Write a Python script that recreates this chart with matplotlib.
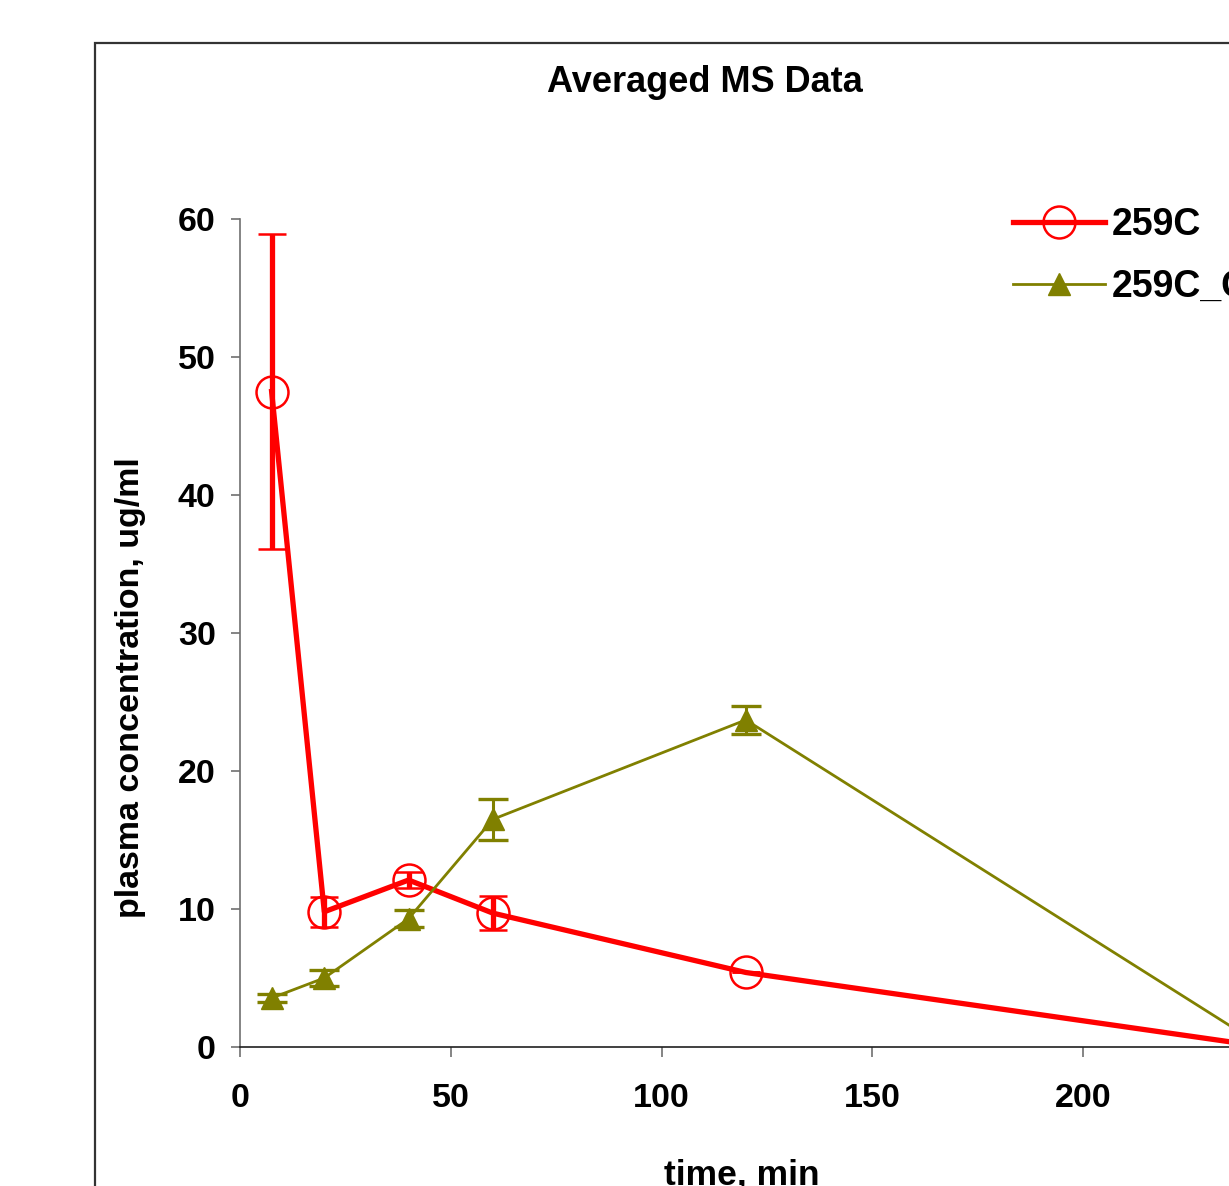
import matplotlib
matplotlib.use("Agg")
import matplotlib.pyplot as plt
from matplotlib.patches import Rectangle
from matplotlib.lines import Line2D

plt.rcParams['font.family'] = ['Liberation Sans', 'DejaVu Sans']
plt.rcParams['font.weight'] = 'bold'

time_min = [7.5, 20, 40, 60, 120, 240]
conc_259c = [47.5, 9.8, 12.1, 9.7, 5.4, 0.15]
err_259c = [11.4, 1.1, 0.6, 1.25, 0.0, 0.0]
conc_259c_g = [3.55, 5.0, 9.3, 16.5, 23.7, 0.55]
err_259c_g = [0.3, 0.6, 0.6, 1.5, 1.0, 0.0]
labels = ["259C", "259C_G"]
x_ticks = [0, 50, 100, 150, 200]
y_ticks = [0, 10, 20, 30, 40, 50, 60]

W, H = 1229, 1186
fig = plt.figure(figsize=(W / 100, H / 100), dpi=100)

# chart area border (extends beyond the cropped canvas)
fig.patches.append(Rectangle((95 / W, -0.2), 2.0, (H - 43) / H + 0.2,
                             transform=fig.transFigure, fill=False,
                             edgecolor='#333333', linewidth=1.6))

left, right, top, bottom = 240, 1251.6, 219, 1047
ax = fig.add_axes([left / W, 1 - bottom / H, (right - left) / W, (bottom - top) / H])

red = '#FF0000'
olive = '#808000'

red_style = dict(color=red, linewidth=3.8, marker='o', markersize=23,
                 markerfacecolor='none', markeredgecolor=red, markeredgewidth=1.8)
olive_style = dict(color=olive, linewidth=2.0, marker='^', markersize=16,
                   markerfacecolor=olive, markeredgecolor=olive)

ax.errorbar(time_min, conc_259c, yerr=err_259c, ecolor=red, elinewidth=3.8,
            capsize=10, capthick=3.8, zorder=3, clip_on=False, **red_style)
ax.errorbar(time_min, conc_259c_g, yerr=err_259c_g, ecolor=olive, elinewidth=2.2,
            capsize=11, capthick=2.4, zorder=4, clip_on=False, **olive_style)

ax.set_xlim(0, 240)
ax.set_ylim(0, 60)
ax.set_xticks(x_ticks)
ax.set_yticks(y_ticks)
ax.spines['top'].set_visible(False)
ax.spines['right'].set_visible(False)
ax.spines['left'].set_color('#707070')
ax.spines['bottom'].set_color('#202020')
ax.spines['left'].set_linewidth(1.2)
ax.spines['bottom'].set_linewidth(1.2)
ax.tick_params(axis='y', direction='out', length=6.5, width=1.2, color='#707070',
               pad=11, labelsize=24.5)
ax.tick_params(axis='x', direction='out', length=7, width=1.2, color='#707070',
               pad=19, labelsize=24.5)
for lab in ax.get_xticklabels() + ax.get_yticklabels():
    lab.set_fontweight('bold')

ax.set_xlabel("time, min", fontsize=25.5, fontweight='bold')
ax.xaxis.set_label_coords((742 - left) / (right - left), (bottom - 1159) / (bottom - top))
ax.set_ylabel("plasma concentration, ug/ml", fontsize=24.5, fontweight='bold')
ax.yaxis.set_label_coords((146 - left) / (right - left), (bottom - 688) / (bottom - top))

fig.text(705 / W, 1 - 82 / H, "Averaged MS Data", ha='center', va='center',
         fontsize=26, fontweight='bold')

handles = [Line2D([], [], **red_style), Line2D([], [], **olive_style)]
leg = ax.legend(handles, labels, loc='upper left', bbox_to_anchor=(1013 / W, 1 - 207 / H),
                bbox_transform=fig.transFigure, frameon=False, fontsize=27,
                handlelength=2.45, handletextpad=0.19, labelspacing=0.7,
                borderpad=0, borderaxespad=0, numpoints=1)
for t in leg.get_texts():
    t.set_fontweight('bold')

fig.savefig("out.png", dpi=100)
